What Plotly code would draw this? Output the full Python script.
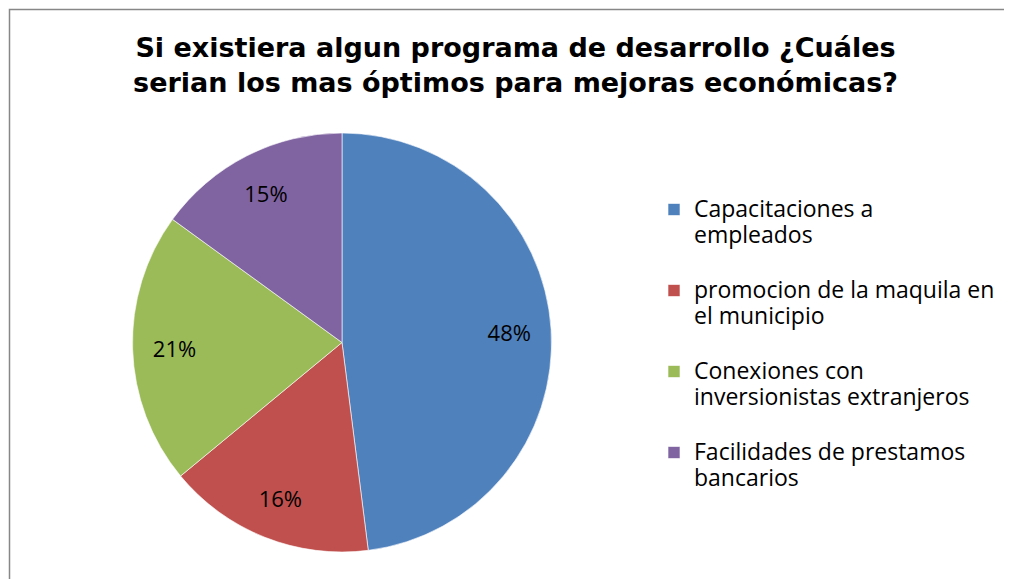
import plotly.graph_objects as go

categorias = [
    "Capacitaciones a|empleados",
    "promocion de la maquila en|el municipio",
    "Conexiones con|inversionistas extranjeros",
    "Facilidades de prestamos|bancarios",
]
valores = [48, 16, 21, 15]
colores = ["#4F81BD", "#C0504D", "#9BBB59", "#8064A2"]

W, H = 1012, 579
OFF = 8  # the page body adds 8px around the figure


def fx(px):
    return (px - OFF) / W


def fy(py):
    return 1 - (py - OFF) / H


# legend labels: two lines of text at 23px plus an empty line for the gap
etiquetas = [
    "<br>".join('<span style="font-size:23px">%s</span>' % t for t in c.split("|")) + "<br> "
    for c in categorias
]

dominio = dict(x=[fx(132.5), fx(551.5)], y=[fy(552), fy(133)])

fig = go.Figure()
fig.add_trace(go.Pie(
    labels=etiquetas,
    values=valores,
    sort=False,
    direction="clockwise",
    rotation=0,
    marker=dict(colors=colores, line=dict(color="rgba(255,255,255,0.6)", width=1)),
    textinfo="none",
    domain=dominio,
    hovertemplate="%{value}<extra></extra>",
))
# transparent ring carrying the percentage labels further out in each slice
fig.add_trace(go.Pie(
    labels=etiquetas,
    values=valores,
    sort=False,
    direction="clockwise",
    rotation=0,
    hole=0.6,
    marker=dict(colors=["rgba(0,0,0,0)"] * 4, line=dict(width=0)),
    texttemplate="%{percent:.0%}",
    textposition="inside",
    insidetextorientation="horizontal",
    textfont=dict(family="Open Sans", size=22, color="black"),
    domain=dominio,
    showlegend=False,
    hoverinfo="skip",
))

fig.update_layout(
    width=W, height=H,
    margin=dict(l=0, r=0, t=0, b=0),
    paper_bgcolor="white",
    title=dict(
        text="Si existiera algun programa de desarrollo ¿Cuáles<br>serian los mas óptimos para mejoras económicas?",
        x=fx(515.5), xanchor="center", y=1 - 49 / H, yanchor="top",
        font=dict(family="DejaVu Sans", size=27, color="black", weight="bold"),
    ),
    legend=dict(
        x=fx(654), y=fy(190), xanchor="left", yanchor="top",
        font=dict(family="Open Sans", size=20, color="black"),
        valign="top",
    ),
    shapes=[dict(type="rect", xref="paper", yref="paper",
                 x0=fx(9.5), x1=1.02, y0=-0.02, y1=fy(9.5),
                 line=dict(color="#878787", width=1.5))],
)

fig.write_html("out.html")
